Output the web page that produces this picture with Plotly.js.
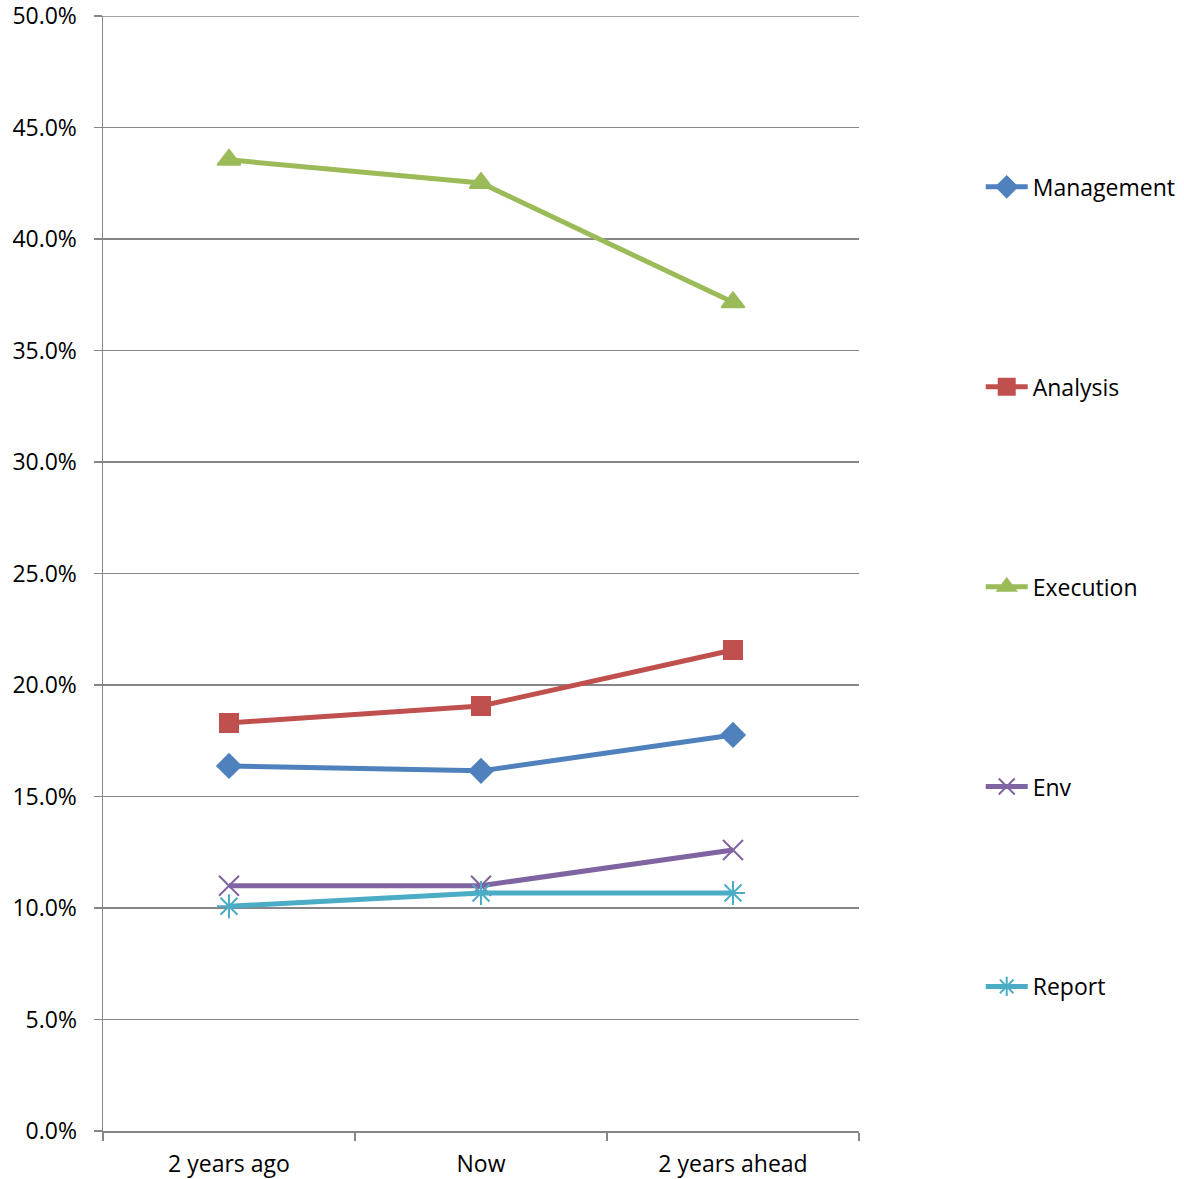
<!DOCTYPE html>
<html>
<head>
<meta charset="utf-8">
<script src="https://cdn.plot.ly/plotly-3.0.1.min.js"></script>
<style>
  html, body { margin: 0; padding: 0; background: #fff; }
  #chart { width: 1184px; height: 1179px; }
</style>
</head>
<body>
<div id="chart"></div>
<script>
// Categories along the x axis
const periods = ["2 years ago", "Now", "2 years ahead"];

// Share of each area per period (fractions, shown as percent)
const management = [0.1637, 0.1615, 0.1776];
const analysis   = [0.1830, 0.1906, 0.2157];
const execution  = [0.4355, 0.4251, 0.3716];
const env        = [0.1100, 0.1100, 0.1260];
const report     = [0.1008, 0.1067, 0.1067];

const seriesNames = ["Management", "Analysis", "Execution", "Env", "Report"];
const seriesData = [management, analysis, execution, env, report];
const seriesColors = ["#4F81BD", "#C0504D", "#9BBB59", "#8064A2", "#4BACC6"];
const seriesSymbols = ["diamond", "square", "triangle-up", "x-thin-open", "asterisk-open"];
const seriesSizes = [18, 18, 20, 20, 20];

const yRange = [0, 0.5];
const gridColor = "#868686";

const traces = seriesNames.map((name, i) => ({
  type: "scatter",
  mode: "lines+markers",
  name: name,
  legendgroup: name,
  x: periods,
  y: seriesData[i],
  line: { color: seriesColors[i], width: 5 },
  marker: {
    symbol: seriesSymbols[i],
    size: seriesSizes[i],
    color: seriesColors[i],
    line: { color: seriesColors[i], width: 2 }
  },
  cliponaxis: false
}));

const layout = {
  width: 1184,
  height: 1179,
  margin: { l: 103, r: 325, t: 16, b: 48, autoexpand: false },
  paper_bgcolor: "#ffffff",
  plot_bgcolor: "#ffffff",
  font: { family: "Open Sans, Liberation Sans, sans-serif", size: 23, color: "#000000" },
  showlegend: true,
  legend: {
    x: 1.161,
    xanchor: "left",
    y: 0.488,
    yanchor: "middle",
    tracegroupgap: 167,
    itemwidth: 42,
    font: { size: 23, color: "#000000" },
    bgcolor: "rgba(0,0,0,0)",
    itemclick: false
  },
  // gridline along the top of the value axis
  shapes: [{
    type: "line",
    xref: "paper", x0: 0, x1: 1,
    yref: "y", y0: yRange[1], y1: yRange[1],
    line: { color: gridColor, width: 1.5 },
    layer: "below"
  }],
  xaxis: {
    type: "category",
    range: [-0.5, 2.5],
    tickson: "boundaries",
    ticks: "outside",
    ticklen: 8,
    tickcolor: gridColor,
    tickwidth: 1.5,
    ticklabelstandoff: 12,
    showline: true,
    linecolor: gridColor,
    linewidth: 1.5,
    showgrid: false,
    zeroline: false,
    automargin: false,
    tickfont: { size: 23 },
    fixedrange: true
  },
  yaxis: {
    range: yRange,
    tick0: 0,
    dtick: 0.05,
    tickformat: ".1%",
    ticks: "outside",
    ticklen: 8,
    tickcolor: gridColor,
    tickwidth: 1.5,
    ticklabelstandoff: 12,
    ticklabeloverflow: "allow",
    showline: true,
    linecolor: gridColor,
    linewidth: 1.5,
    showgrid: true,
    gridcolor: gridColor,
    gridwidth: 1.5,
    zeroline: false,
    automargin: false,
    tickfont: { size: 23 },
    fixedrange: true
  }
};

Plotly.newPlot("chart", traces, layout, { displayModeBar: false, staticPlot: true });
</script>
</body>
</html>
